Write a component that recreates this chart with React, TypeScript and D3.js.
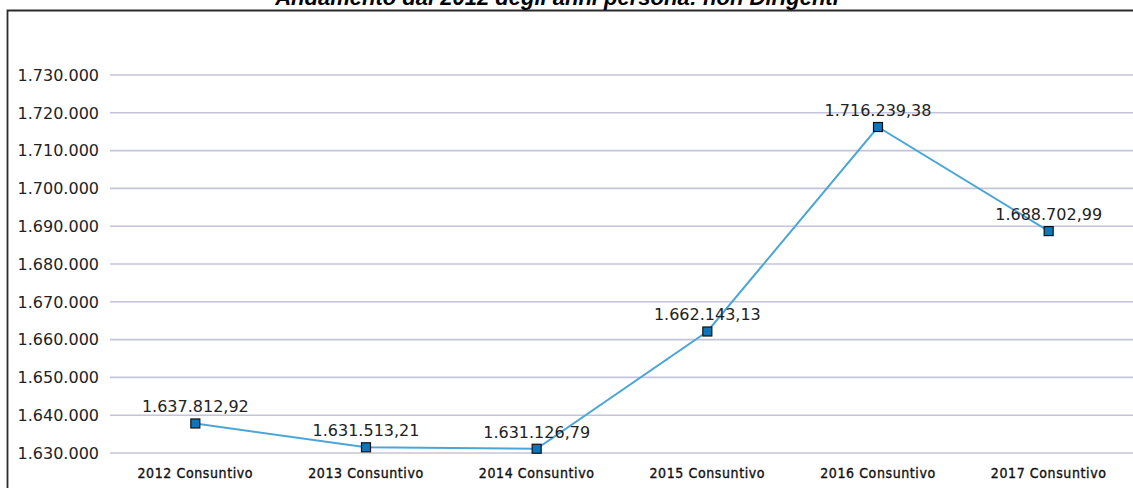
import { useEffect, useRef } from 'react';
import * as d3 from 'd3';

const categories = [
    '2012 Consuntivo',
    '2013 Consuntivo',
    '2014 Consuntivo',
    '2015 Consuntivo',
    '2016 Consuntivo',
    '2017 Consuntivo',
];
const values = [1637812.92, 1631513.21, 1631126.79, 1662143.13, 1716239.38, 1688702.99];
const yTicks = [1630000, 1640000, 1650000, 1660000, 1670000, 1680000, 1690000, 1700000, 1710000, 1720000, 1730000];
const title = 'Andamento dal 2012 degli anni persona: non Dirigenti';

const itLocale = d3.formatLocale({ decimal: ',', thousands: '.', grouping: [3], currency: ['€', ''] });

export default function App() {
    const svgRef = useRef<SVGSVGElement>(null);
    const width = 1133;
    const height = 488;

    useEffect(() => {
        document.body.style.margin = '0';
        if (!svgRef.current) return;
        const svg = d3.select(svgRef.current);
        svg.selectAll('*').remove();

        const margin = { top: 75, right: -1, bottom: 35, left: 110 };

        const x = d3
            .scaleBand<string>()
            .domain(categories)
            .range([margin.left, width - margin.right]);

        const y = d3
            .scaleLinear()
            .domain([1630000, 1730000])
            .range([height - margin.bottom, margin.top]);

        const fmtTick = itLocale.format(',.0f');
        const fmtVal = itLocale.format(',.2f');

        // frame
        svg.append('rect')
            .attr('x', 0)
            .attr('y', 0)
            .attr('width', width)
            .attr('height', height)
            .attr('fill', '#fff');

        svg.append('path')
            .attr('d', `M7.5,${height + 5}V10.5H${width + 5}`)
            .attr('fill', 'none')
            .attr('stroke', '#2b2b2b')
            .attr('stroke-width', 1.8);

        // title (mostly cropped at the top, as in the original)
        svg.append('text')
            .attr('x', 557)
            .attr('y', 5)
            .attr('text-anchor', 'middle')
            .attr('font-family', '"Liberation Sans", Arial, sans-serif')
            .attr('font-weight', 'bold')
            .attr('font-style', 'italic')
            .attr('font-size', 22)
            .attr('fill', '#000')
            .text(title);

        // grid + y ticks
        const yAxis = svg.append('g');
        yTicks.forEach((t) => {
            yAxis.append('line')
                .attr('x1', margin.left)
                .attr('x2', width)
                .attr('y1', y(t))
                .attr('y2', y(t))
                .attr('stroke', '#c4c4da')
                .attr('stroke-width', 1.6);
            yAxis.append('text')
                .attr('x', 99)
                .attr('y', y(t))
                .attr('dy', '0.36em')
                .attr('text-anchor', 'end')
                .attr('font-family', '"DejaVu Sans", sans-serif')
                .attr('font-size', 16)
                .attr('fill', '#222')
                .text(fmtTick(t));
        });

        // x labels
        categories.forEach((c) => {
            svg.append('text')
                .attr('x', (x(c) ?? 0) + x.bandwidth() / 2)
                .attr('y', 478)
                .attr('text-anchor', 'middle')
                .attr('font-family', '"DejaVu Sans Condensed", "DejaVu Sans", sans-serif')
                .attr('font-size', 14)
                .attr('letter-spacing', 0.6)
                .attr('fill', '#111')
                .attr('stroke', '#111')
                .attr('stroke-width', 0.35)
                .text(c);
        });

        const pts = categories.map((c, i) => ({ c, v: values[i] }));
        const cx = (d: { c: string }) => (x(d.c) ?? 0) + x.bandwidth() / 2;

        const line = d3
            .line<{ c: string; v: number }>()
            .x(cx)
            .y((d) => y(d.v));

        svg.append('path')
            .datum(pts)
            .attr('fill', 'none')
            .attr('stroke', '#4ba6d6')
            .attr('stroke-width', 2)
            .attr('d', line);

        svg.selectAll('.marker')
            .data(pts)
            .enter()
            .append('rect')
            .attr('class', 'marker')
            .attr('x', (d) => cx(d) - 4.5)
            .attr('y', (d) => y(d.v) - 4.5)
            .attr('width', 9)
            .attr('height', 9)
            .attr('fill', '#0a77bd')
            .attr('stroke', '#111')
            .attr('stroke-width', 1.2);

        svg.selectAll('.val')
            .data(pts)
            .enter()
            .append('text')
            .attr('class', 'val')
            .attr('x', cx)
            .attr('y', (d) => y(d.v) - 11)
            .attr('text-anchor', 'middle')
            .attr('font-family', '"DejaVu Sans", sans-serif')
            .attr('font-size', 16)
            .attr('fill', '#222')
            .text((d) => fmtVal(d.v));
    }, []);

    return <svg ref={svgRef} width={width} height={height} style={{ display: 'block' }} />;
}
